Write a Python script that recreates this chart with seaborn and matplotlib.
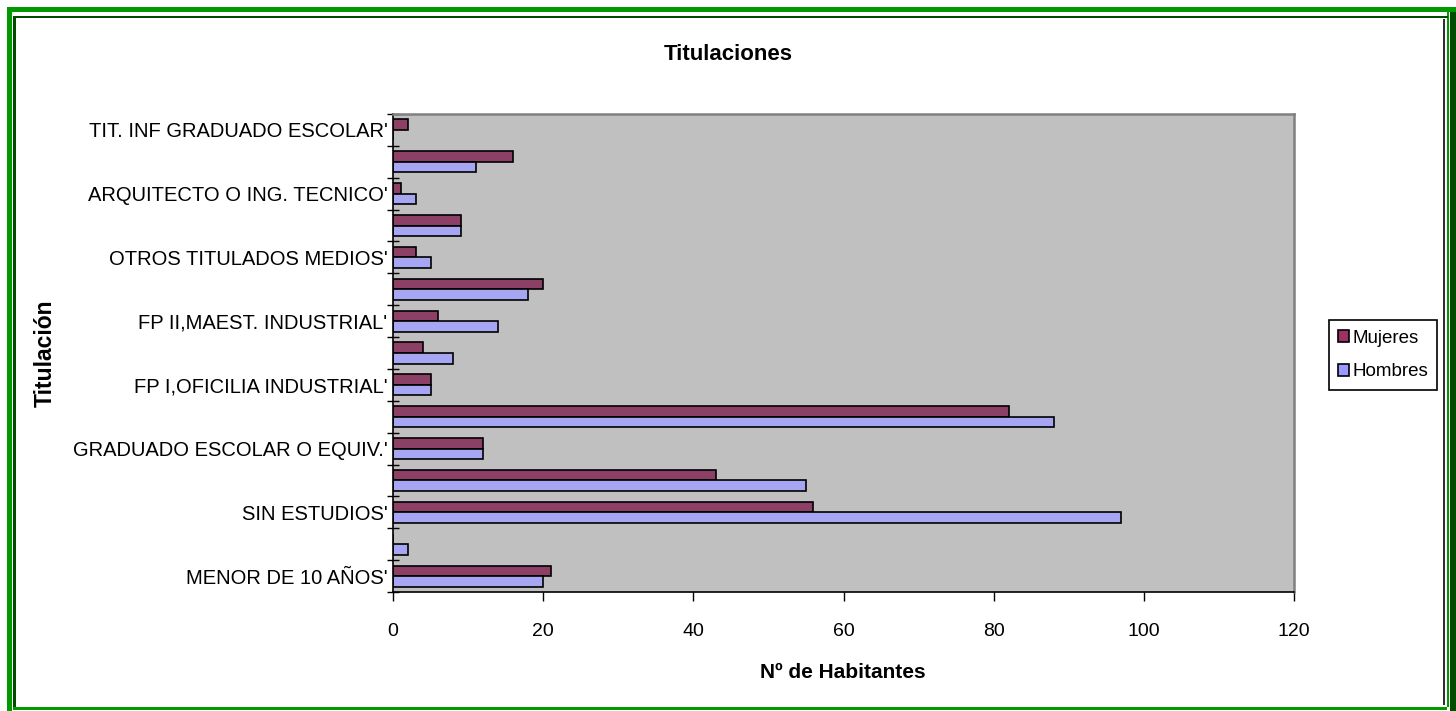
import matplotlib
matplotlib.use("Agg")
import matplotlib.pyplot as plt
from matplotlib.patches import Rectangle, Patch
import numpy as np
import pandas as pd
import seaborn as sns

# categories from top to bottom (every other one is labelled, as in the original)
titulaciones = [
    "TIT. INF GRADUADO ESCOLAR'",
    "LICENCIADO UNIVERSITARIO'",
    "ARQUITECTO O ING. TECNICO'",
    "DIPLOMADO ESCUELA UNIV.'",
    "OTROS TITULADOS MEDIOS'",
    "BACHILLER SUPERIOR'",
    "FP II,MAEST. INDUSTRIAL'",
    "OTROS TIT. SEGUNDO GRADO'",
    "FP I,OFICILIA INDUSTRIAL'",
    "BACHILLER ELEMENTAL'",
    "GRADUADO ESCOLAR O EQUIV.'",
    "ENSEÑANZA PRIMARIA INCOMPL.'",
    "SIN ESTUDIOS'",
    "NO SABE LEER NI ESCRIBIR'",
    "MENOR DE 10 AÑOS'",
]
mujeres = [2, 16, 1, 9, 3, 20, 6, 4, 5, 82, 12, 43, 56, 0, 21]
hombres = [0, 11, 3, 9, 5, 18, 14, 8, 5, 88, 12, 55, 97, 2, 20]
series = ["Mujeres", "Hombres"]
colores = {"Mujeres": "#993366", "Hombres": "#9999FF"}
xticks = [0, 20, 40, 60, 80, 100, 120]
etiquetas = [t if i % 2 == 0 else "" for i, t in enumerate(titulaciones)]

sns.set_theme(style="white")
plt.rcParams["font.family"] = ["Liberation Sans", "DejaVu Sans"]
plt.rcParams["text.color"] = "black"
plt.rcParams["xtick.color"] = "black"
plt.rcParams["ytick.color"] = "black"
plt.rcParams["axes.labelcolor"] = "black"

df = pd.DataFrame({
    "Titulación": titulaciones * 2,
    "Sexo": ["Mujeres"] * len(mujeres) + ["Hombres"] * len(hombres),
    "Habitantes": mujeres + hombres,
})

W, H = 1456, 711
fig = plt.figure(figsize=(W / 100, H / 100), dpi=100)
fig.patch.set_facecolor("white")

# plot area in pixels: x 393..1294, y 114..592
ax = fig.add_axes([393 / W, 1 - 592 / H, (1294 - 393) / W, (592 - 114) / H])
ax.set_facecolor("#C0C0C0")
sns.barplot(data=df, y="Titulación", x="Habitantes", hue="Sexo", hue_order=series,
            orient="h", palette=colores, width=0.66, edgecolor="black",
            linewidth=1.2, ax=ax, legend=False)

ax.set_xlim(0, 120)
ax.set_ylim(len(titulaciones) - 0.5, -0.5)
ax.set_xticks(xticks)
ax.set_xticklabels([str(v) for v in xticks], fontsize=14)
ax.set_yticks(range(len(titulaciones)))
ax.set_yticklabels(etiquetas, fontsize=14.5)
ax.set_yticks(np.arange(-0.5, len(titulaciones)), minor=True)
ax.tick_params(axis="y", which="major", length=0, pad=4)
ax.tick_params(axis="y", which="minor", length=9, width=1, direction="inout", color="black", left=True)
ax.tick_params(axis="x", which="major", length=6.5, width=1, direction="out", color="black",
               bottom=True, pad=16)
ax.set_xlabel("")
ax.set_ylabel("")
for s in ["left", "bottom"]:
    ax.spines[s].set_color("black")
    ax.spines[s].set_linewidth(1.2)
for s in ["top", "right"]:
    ax.spines[s].set_color("#808080")
    ax.spines[s].set_linewidth(1.8)

fig.text(0.5, 1 - 55 / H, "Titulaciones", ha="center", va="center", fontsize=16, fontweight="bold")
fig.text(843 / W, 1 - 672 / H, "Nº de Habitantes", ha="center", va="center", fontsize=15, fontweight="bold")
fig.text(45 / W, 1 - 353 / H, "Titulación", ha="center", va="center", rotation=90,
         fontsize=16.5, fontweight="bold")

handles = [Patch(facecolor=colores[s], edgecolor="black", linewidth=1.2) for s in series]
leg = fig.legend(handles, series, loc="center", bbox_to_anchor=(1383 / W, 1 - 355 / H),
                 fontsize=13.5, fancybox=False, framealpha=1, edgecolor="black",
                 handlelength=0.6, handleheight=0.6, handletextpad=0.15, labelspacing=0.9,
                 borderpad=0.5, borderaxespad=0)
leg.get_frame().set_linewidth(1.2)


# green frame around the chart, drawn in pixel units
def caja(x0, y0, x1, y1, color):
    fig.add_artist(Rectangle((x0 / W, 1 - y1 / H), (x1 - x0) / W, (y1 - y0) / H,
                             transform=fig.transFigure, facecolor=color, edgecolor="none"))


verde = "#009900"
oscuro = "#004D00"
caja(7, 7, 1456, 12, verde)
caja(7, 7, 12, 711, verde)
caja(13, 707, 1447, 710, verde)
caja(1447, 12, 1449, 707, verde)
caja(13, 16, 1448, 18, oscuro)
caja(13, 16, 16, 707, oscuro)
caja(1450, 12, 1456, 711, oscuro)
caja(1443, 19, 1444.5, 705, "#303030")

fig.savefig("out.png", dpi=100)
